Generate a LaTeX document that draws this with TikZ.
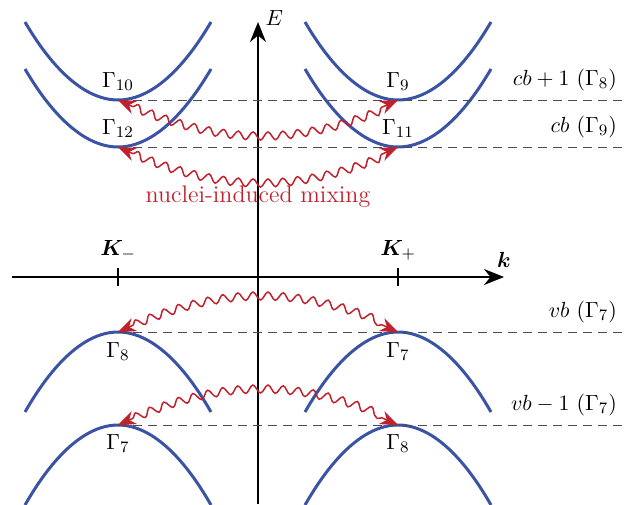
\documentclass[tikz,border=0pt]{standalone}
\usepackage{bm}
\usetikzlibrary{arrows.meta,decorations.pathmorphing,positioning}
\definecolor{bandblue}{RGB}{58,83,164}
\definecolor{mixred}{RGB}{193,33,45}
\tikzstyle{band}=[bandblue,line width=1.5pt]
\tikzstyle{lvl}=[black!70,line width=0.5pt,dash pattern=on 4.5pt off 3pt]
\tikzstyle{axis}=[-{Stealth[length=10pt,width=8pt]},line width=1pt]
\tikzstyle{tick}=[line width=0.8pt]
\tikzstyle{mix}=[{Stealth[length=9pt,width=7pt]}-{Stealth[length=9pt,width=7pt]},mixred,line width=0.75pt,decorate,decoration={snake,amplitude=2pt,segment length=7.5pt,pre length=8pt,post length=8pt}]
\tikzstyle{lvlname}=[anchor=south east,yshift=1pt]

\begin{document}
\begin{tikzpicture}[x=0.5pt,y=-0.5pt,font=\fontsize{11}{13}\selectfont]
\useasboundingbox (0,0) rectangle (624,504);
\coordinate (rim) at (624,0);
% band extrema
\coordinate (c1L) at (118,100);
\coordinate (c1R) at (398,100);
\coordinate (c0L) at (118,147);
\coordinate (c0R) at (398,147);
\coordinate (v0L) at (118,332);
\coordinate (v0R) at (398,332);
\coordinate (v1L) at (118,425);
\coordinate (v1R) at (398,425);
% axes
\coordinate (xl) at (12,277);
\coordinate (xr) at (504,277);
\coordinate (yb) at (258,504);
\coordinate (yt) at (258,22);
\draw[axis] (xl) -- (xr) node[above=1pt] (klab) {$\bm{k}$};
\draw[axis] (yb) -- (yt) node[anchor=west,yshift=2pt] (Elab) {$E$};
\draw[tick] (118,268) -- (118,286) node[pos=0,above] (Kmlab) {$\bm{K}_-$};
\draw[tick] (398,268) -- (398,286) node[pos=0,above] (Kplab) {$\bm{K}_+$};
% bands
\foreach \x in {118,398}{
  \foreach \y in {100,147}
    \draw[band] (\x-93,\y-78) parabola bend (\x,\y) (\x+93,\y-78);
  \foreach \y in {332,425}
    \draw[band] (\x-93,\y+80) parabola bend (\x,\y) (\x+93,\y+80);
}
% levels
\foreach \p in {c1L,c0L,v0L,v1L}
  \draw[lvl] (\p) -- (\p -| rim);
\node[lvlname] (cbA) at (c1L -| rim) {$cb+1\ (\Gamma_8)$};
\node[lvlname] (cb) at (c0L -| rim) {$cb\ (\Gamma_9)$};
\node[lvlname] (vb) at (v0L -| rim) {$vb\ (\Gamma_7)$};
\node[lvlname] (vbA) at (v1L -| rim) {$vb-1\ (\Gamma_7)$};
% symmetry labels
\node[above=1pt] (G10) at (c1L) {$\Gamma_{10}$};
\node[above=1pt] (G9) at (c1R) {$\Gamma_{9}$};
\node[above=1pt] (G12) at (c0L) {$\Gamma_{12}$};
\node[above=1pt] (G11) at (c0R) {$\Gamma_{11}$};
\node[below=1.5pt] (G8v) at (v0L) {$\Gamma_{8}$};
\node[below=1.5pt] (G7v) at (v0R) {$\Gamma_{7}$};
\node[below=1pt] (G7w) at (v1L) {$\Gamma_{7}$};
\node[below=1pt] (G8w) at (v1R) {$\Gamma_{8}$};
% mixing
\draw[mix] (c1L) to[bend right=25] (c1R);
\draw[mix] (c0L) to[bend right=25] (c0R);
\draw[mix] (v0L) to[bend left=25] (v0R);
\draw[mix] (v1L) to[bend left=25] (v1R);
\node[mixred,font=\fontsize{12}{14}\selectfont] (mixlab) at (258,197) {nuclei-induced mixing};
\end{tikzpicture}
\end{document}
